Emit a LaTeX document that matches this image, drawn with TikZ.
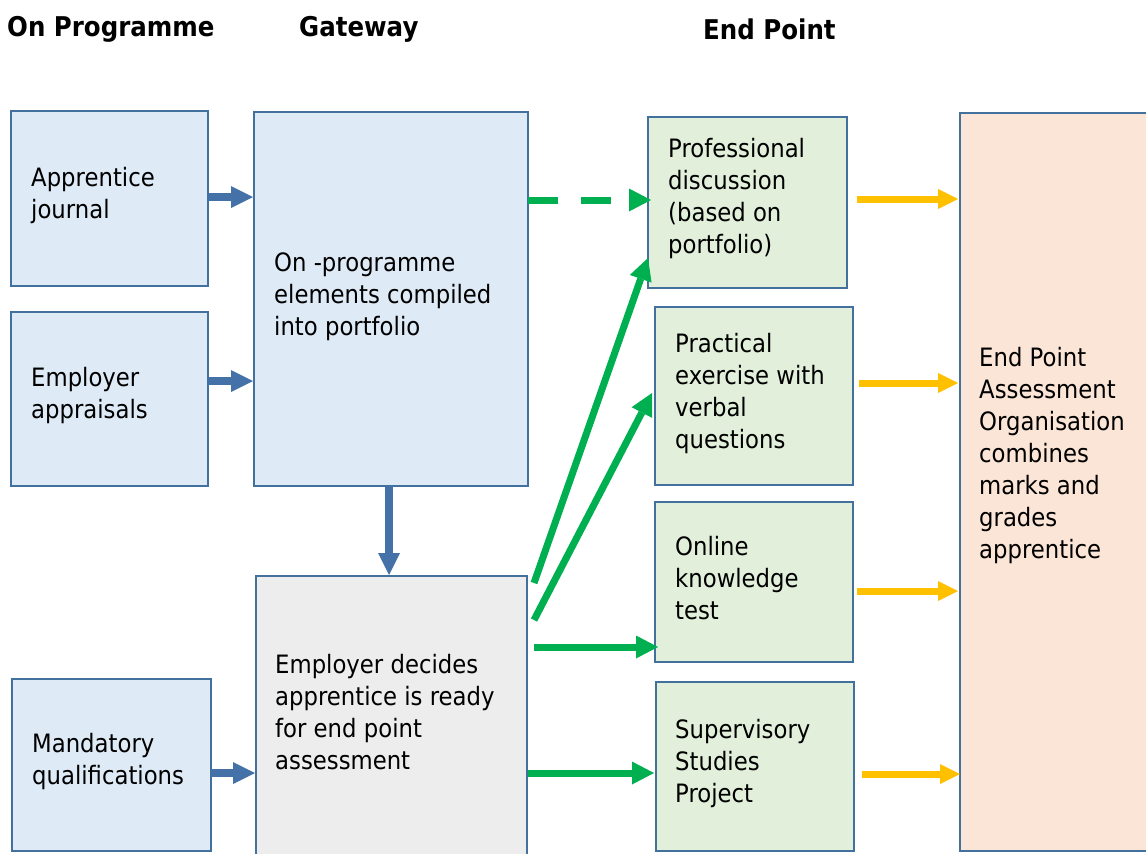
\documentclass[tikz,border=0pt]{standalone}
\usepackage{fontspec}
\setmainfont{DejaVu Sans}[FakeStretch=0.9]
\usetikzlibrary{arrows.meta,calc}
\definecolor{bord}{RGB}{65,113,156}
\definecolor{blfill}{RGB}{222,234,246}
\definecolor{grfill}{RGB}{226,239,218}
\definecolor{gyfill}{RGB}{237,237,237}
\definecolor{pcfill}{RGB}{251,229,214}
\definecolor{arblue}{RGB}{68,114,168}
\definecolor{argreen}{RGB}{0,176,80}
\definecolor{aryellow}{RGB}{255,192,0}
\begin{document}
\begin{tikzpicture}[x=1pt,y=-1pt,
 box/.style={draw=bord, line width=2.8pt, inner sep=0pt, outer sep=0pt, rectangle},
 txt/.style={anchor=west, align=left, inner sep=0pt, font=\fontsize{25.3}{32}\selectfont},
 hdr/.style={anchor=base west, inner sep=0pt, font=\fontsize{27.2}{32}\selectfont\bfseries},
 barrow/.style={draw=arblue, line width=8pt, -{Triangle[length=22pt,width=22pt,line width=0pt]}},
 garrow/.style={draw=argreen, line width=7pt, -{Triangle[length=22pt,width=23pt,line width=0pt]}},
 yarrow/.style={draw=aryellow, line width=7pt, -{Triangle[length=20pt,width=20pt,line width=0pt]}},
]
\fill[white] (0,0) rectangle (1146,854);
\clip (0,0) rectangle (1146,854);

% headers
\node[hdr] (h1) at (7,36) {On Programme};
\node[hdr] (h2) at (299,36) {Gateway};
\node[hdr] (h3) at (703,39) {End Point};

% boxes
\node[box, fill=blfill, minimum width=197pt, minimum height=175pt] (aj) at (109.5,198.5) {};
\node[box, fill=blfill, minimum width=197pt, minimum height=174pt] (ea) at (109.5,399) {};
\node[box, fill=blfill, minimum width=199pt, minimum height=172pt] (mq) at (111.5,765) {};
\node[box, fill=blfill, minimum width=274pt, minimum height=374pt] (op) at (391,299) {};
\node[box, fill=gyfill, minimum width=271pt, minimum height=324pt] (gw) at (391.5,738) {};
\node[box, fill=grfill, minimum width=199pt, minimum height=171pt] (pd) at (747.5,202.5) {};
\node[box, fill=grfill, minimum width=198pt, minimum height=178pt] (pe) at (754,396) {};
\node[box, fill=grfill, minimum width=198pt, minimum height=160pt] (ok) at (754,582) {};
\node[box, fill=grfill, minimum width=198pt, minimum height=169pt] (ss) at (755,766.5) {};
\node[box, fill=pcfill, minimum width=200pt, minimum height=738pt] (ep) at (1060,482) {};

% texts
\node[txt] (ajt) at ($(aj.west)+(20,-3)$) {Apprentice\\journal};
\node[txt] (eat) at ($(ea.west)+(20,-3)$) {Employer\\appraisals};
\node[txt] (mqt) at ($(mq.west)+(20,-3)$) {Mandatory\\qualifications};
\node[txt] (opt) at ($(op.west)+(20,-2)$) {On -programme\\elements compiled\\into portfolio};
\node[txt] (gwt) at ($(gw.north west)+(19,136)$) {Employer decides\\apprentice is ready\\for end point\\assessment};
\node[txt] (pdt) at ($(pd.west)+(20,-3.5)$) {Professional\\discussion\\(based on\\portfolio)};
\node[txt] (pet) at ($(pe.west)+(20,-2.5)$) {Practical\\exercise with\\verbal\\questions};
\node[txt] (okt) at ($(ok.west)+(20,-4)$) {Online\\knowledge\\test};
\node[txt] (sst) at ($(ss.west)+(19,-2.5)$) {Supervisory\\Studies\\Project};
\node[txt] (ept) at ($(ep.west)+(19,-26.5)$) {End Point\\Assessment\\Organisation\\combines\\marks and\\grades\\apprentice};

% blue arrows
\draw[barrow] ($(aj.east)+(1,-1.5)$) -- ($(aj.east -| op.west)+(-1,-1.5)$);
\draw[barrow] ($(ea.east)+(1,-18)$) -- ($(ea.east -| op.west)+(-1,-18)$);
\draw[barrow] ($(mq.east)+(0,8)$) -- ($(mq.east -| gw.west)+(-1,8)$);
\draw[barrow] ($(op.south)+(-2,0)$) -- ($(op.south |- gw.north)+(-2,-1)$);

% green arrows
\draw[garrow, dash pattern=on 30pt off 23pt] ($(op.east |- pd.west)+(0,-2.5)$) -- ($(pd.west)+(3,-2.5)$);
\draw[garrow] ($(gw.north east)+(7,7)$) -- ($(pd.south west)+(0,-30)$);
\draw[garrow] ($(gw.north east)+(7,44)$) -- ($(pe.west)+(-3,-3)$);
\draw[garrow] ($(gw.north east)+(7,71)$) -- ($(ok.south west)+(3,-15)$);
\draw[garrow] ($(gw.north east)+(1,197)$) -- ($(ss.west)+(-2,6.5)$);

% yellow arrows
\draw[yarrow] ($(pd.east)+(10,-3.5)$) -- ($(pd.east -| ep.west)+(-2,-3.5)$);
\draw[yarrow] ($(pe.east)+(6,-13)$) -- ($(pe.east -| ep.west)+(-2,-13)$);
\draw[yarrow] ($(ok.east)+(4,9)$) -- ($(ok.east -| ep.west)+(-2,9)$);
\draw[yarrow] ($(ss.east)+(8,7.5)$) -- ($(ss.east -| ep.west)+(0,7.5)$);
\end{tikzpicture}
\end{document}
